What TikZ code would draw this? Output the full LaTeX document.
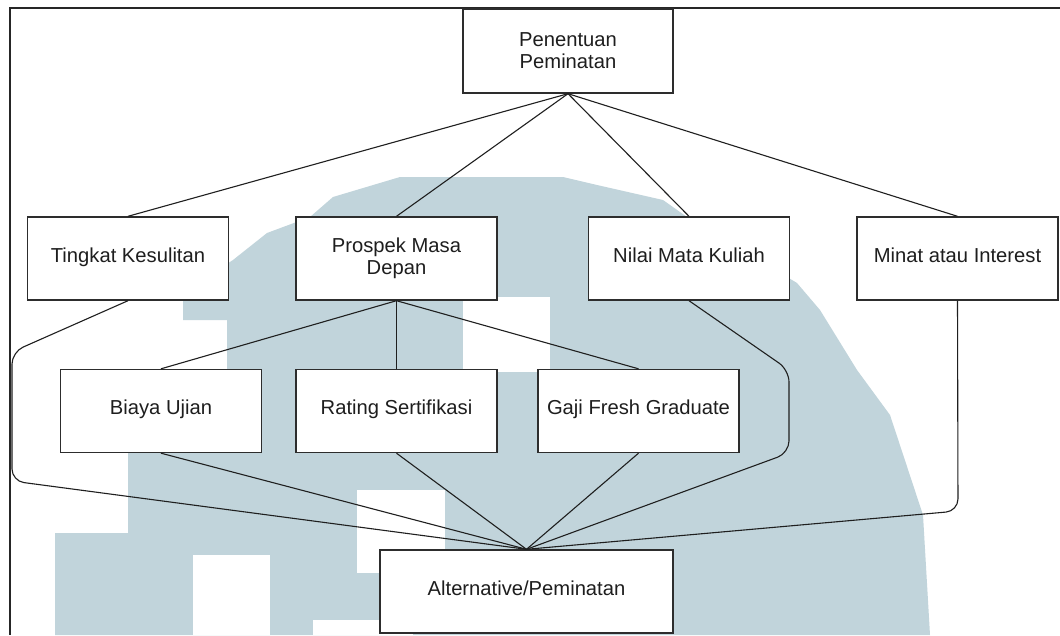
\documentclass[tikz,border=0pt]{standalone}
\usepackage{fontspec}
\setmainfont{Liberation Sans}
\definecolor{wmark}{RGB}{193,212,219}
\definecolor{boxc}{RGB}{45,45,45}
\definecolor{txtc}{RGB}{30,30,30}
\begin{document}
\begin{tikzpicture}[x=1pt,y=-1pt,
  box/.style={draw=boxc, line width=1.4pt, fill=white, inner sep=0pt,
    minimum width=201pt, minimum height=83pt,
    font=\fontsize{20.2}{22}\selectfont, text=txtc},
  one/.style={box, text height=15pt, text depth=8pt},
  two/.style={box, align=center},
  conn/.style={draw=black!88, line width=1.1pt},
  bendconn/.style={conn, rounded corners=12pt},
  wm/.style={fill=wmark, draw=none},
  wmhole/.style={fill=white, draw=none}]
\useasboundingbox (0,0) rectangle (1060,635);
\fill[white] (0,0) rectangle (1060,635);
% watermark (approximate)
\fill[wm] (183,293) -- (233,260) -- (267,233) -- (310,217) -- (333,197)
  -- (400,177) -- (563,177) -- (597,185) -- (663,200) -- (687,217)
  -- (797,283) -- (820,310) -- (857,370) -- (890,415) -- (923,515)
  -- (930,635) -- (55,635) -- (55,533) -- (128,533) -- (128,370)
  -- (227,370) -- (227,320) -- (183,320) -- cycle;
\fill[wmhole] (463,297) rectangle (550,372);
\fill[wmhole] (357,490) rectangle (445,573);
\fill[wmhole] (193,555) rectangle (270,635);
\fill[wmhole] (313,620) rectangle (413,635);
% frame
\draw[line width=2pt, black!85] (1060,8) -- (10,8) -- (10,635);
% nodes
\node[two, minimum width=210pt, minimum height=84pt] (pen) at (568,51) {Penentuan\\Peminatan};
\node[one] (tk) at (128,258.5) {Tingkat Kesulitan};
\node[two] (pr) at (396.5,258.5) {Prospek Masa\\Depan};
\node[one] (nm) at (689,258.5) {Nilai Mata Kuliah};
\node[one] (mi) at (957.5,258.5) {Minat atau Interest};
\node[one] (by) at (161,411) {Biaya Ujian};
\node[one] (rs) at (396.5,411) {Rating Sertifikasi};
\node[one] (gf) at (638.5,411) {Gaji Fresh Graduate};
\node[one, minimum width=293pt] (alt) at (526.5,591.5) {Alternative/Peminatan};
% bend coordinates
\coordinate (tkA) at (12,352);
\coordinate (tkB) at (12,481);
\coordinate (nmA) at (789,370);
\coordinate (nmB) at (789,453);
\coordinate (miA) at (958,511);
% connectors
\draw[conn] (pen.south) -- (tk.north);
\draw[conn] (pen.south) -- (pr.north);
\draw[conn] (pen.south) -- (nm.north);
\draw[conn] (pen.south) -- (mi.north);
\draw[conn] (pr.south) -- (by.north);
\draw[conn] (pr.south) -- (rs.north);
\draw[conn] (pr.south) -- (gf.north);
\draw[conn] (by.south) -- (alt.north);
\draw[conn] (rs.south) -- (alt.north);
\draw[conn] (gf.south) -- (alt.north);
\draw[bendconn] (tk.south) -- (tkA) -- (tkB) -- (alt.north);
\draw[bendconn] (nm.south) -- (nmA) -- (nmB) -- (alt.north);
\draw[bendconn] (mi.south) -- (miA) -- (alt.north);
\end{tikzpicture}
\end{document}
